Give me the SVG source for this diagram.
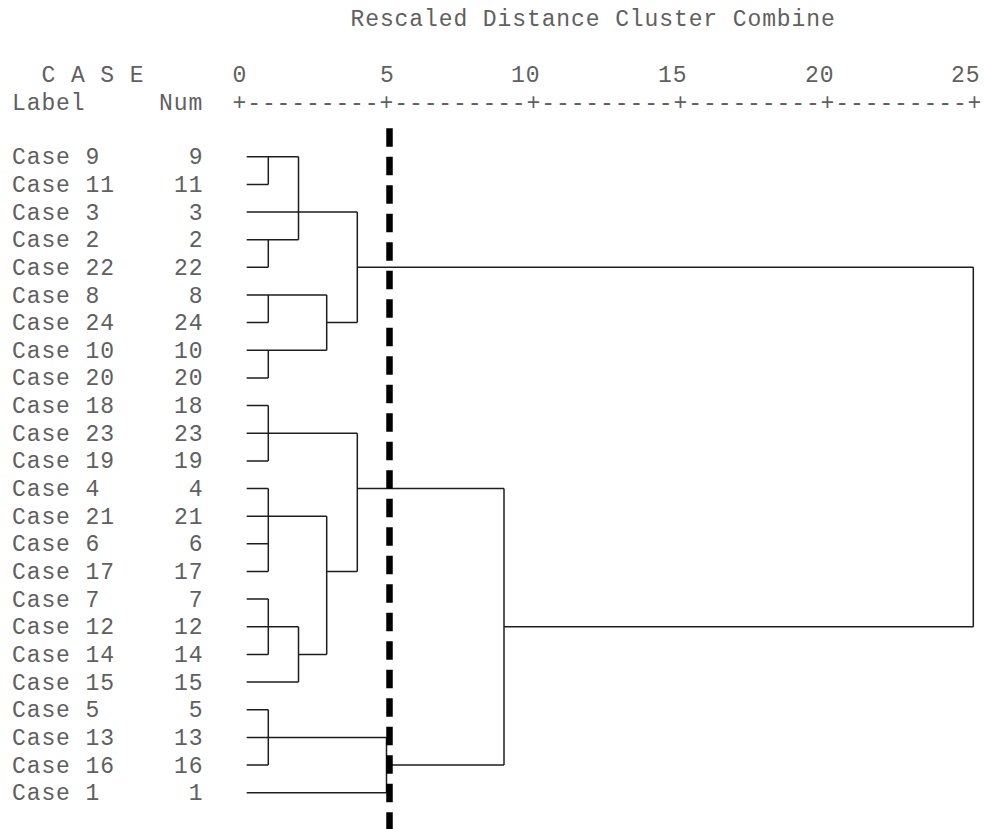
<svg xmlns="http://www.w3.org/2000/svg" width="984" height="829" viewBox="0 0 984 829">
<style>
text{font-family:"Liberation Mono","DejaVu Sans Mono",monospace;font-size:23px;letter-spacing:0.9px;fill:#606060}
.num{text-anchor:end}
.ln{stroke:#1e1e1e;stroke-width:1.5;fill:none}
.cut{stroke:#000;stroke-width:6.5;stroke-dasharray:18.5 10}
</style>
<rect width="984" height="829" fill="#fff"/>
<g id="header">
<text x="350.5" y="26">Rescaled Distance Cluster Combine</text>
<text x="41.5" y="82">C A S E</text>
<text x="232.5" y="82">0</text>
<text x="380" y="82">5</text>
<text x="511" y="82">10</text>
<text x="658" y="82">15</text>
<text x="805" y="82">20</text>
<text x="951" y="82">25</text>
<text x="12" y="110">Label</text>
<text x="159" y="110">Num</text>
<text x="232.5" y="110">+---------+---------+---------+---------+---------+</text>
</g>
<g id="case9"><text x="12" y="164.2">Case 9</text><text class="num" x="203.5" y="164.2">9</text></g>
<g id="case11"><text x="12" y="191.9">Case 11</text><text class="num" x="203.5" y="191.9">11</text></g>
<g id="case3"><text x="12" y="219.5">Case 3</text><text class="num" x="203.5" y="219.5">3</text></g>
<g id="case2"><text x="12" y="247.2">Case 2</text><text class="num" x="203.5" y="247.2">2</text></g>
<g id="case22"><text x="12" y="274.8">Case 22</text><text class="num" x="203.5" y="274.8">22</text></g>
<g id="case8"><text x="12" y="302.5">Case 8</text><text class="num" x="203.5" y="302.5">8</text></g>
<g id="case24"><text x="12" y="330.1">Case 24</text><text class="num" x="203.5" y="330.1">24</text></g>
<g id="case10"><text x="12" y="357.8">Case 10</text><text class="num" x="203.5" y="357.8">10</text></g>
<g id="case20"><text x="12" y="385.4">Case 20</text><text class="num" x="203.5" y="385.4">20</text></g>
<g id="case18"><text x="12" y="413.1">Case 18</text><text class="num" x="203.5" y="413.1">18</text></g>
<g id="case23"><text x="12" y="440.7">Case 23</text><text class="num" x="203.5" y="440.7">23</text></g>
<g id="case19"><text x="12" y="468.4">Case 19</text><text class="num" x="203.5" y="468.4">19</text></g>
<g id="case4"><text x="12" y="496">Case 4</text><text class="num" x="203.5" y="496">4</text></g>
<g id="case21"><text x="12" y="523.7">Case 21</text><text class="num" x="203.5" y="523.7">21</text></g>
<g id="case6"><text x="12" y="551.3">Case 6</text><text class="num" x="203.5" y="551.3">6</text></g>
<g id="case17"><text x="12" y="579">Case 17</text><text class="num" x="203.5" y="579">17</text></g>
<g id="case7"><text x="12" y="606.6">Case 7</text><text class="num" x="203.5" y="606.6">7</text></g>
<g id="case12"><text x="12" y="634.3">Case 12</text><text class="num" x="203.5" y="634.3">12</text></g>
<g id="case14"><text x="12" y="661.9">Case 14</text><text class="num" x="203.5" y="661.9">14</text></g>
<g id="case15"><text x="12" y="689.6">Case 15</text><text class="num" x="203.5" y="689.6">15</text></g>
<g id="case5"><text x="12" y="717.2">Case 5</text><text class="num" x="203.5" y="717.2">5</text></g>
<g id="case13"><text x="12" y="744.9">Case 13</text><text class="num" x="203.5" y="744.9">13</text></g>
<g id="case16"><text x="12" y="772.5">Case 16</text><text class="num" x="203.5" y="772.5">16</text></g>
<g id="case1"><text x="12" y="800.2">Case 1</text><text class="num" x="203.5" y="800.2">1</text></g>
<g id="connectors" class="ln">
<path d="M246.7 156.7H298.5M246.7 184.4H268.3M246.7 212H357.3M246.7 239.7H298.5M246.7 267.3H268.3M246.7 295H326.7M246.7 322.6H268.3M326.7 322.6H357.3M246.7 350.3H326.7M246.7 377.9H268.3M357.3 267.3H973.3"/>
<path d="M246.7 405.6H268.3M246.7 433.2H357.3M246.7 460.9H268.3M246.7 488.5H268.3M357.3 488.5H504M246.7 516.2H326.7M246.7 543.8H268.3M246.7 571.5H268.3M326.7 571.5H357.3M246.7 599.1H268.3M246.7 626.8H298.5M504 626.8H973.3M246.7 654.4H268.3M298.5 654.4H326.7M246.7 682.1H298.5"/>
<path d="M246.7 709.7H268.3M246.7 737.4H386.5M246.7 765H268.3M386.5 765H504M246.7 792.7H386.5"/>
<path d="M268.3 156.7V184.4M268.3 239.7V267.3M268.3 295V322.6M268.3 350.3V377.9M268.3 405.6V460.9M268.3 488.5V571.5M268.3 599.1V654.4M268.3 709.7V765"/>
<path d="M298.5 156.7V239.7M298.5 626.8V682.1M326.7 295V350.3M326.7 516.2V654.4M357.3 212V322.6M357.3 433.2V571.5M386.5 737.4V792.7M504 488.5V765M973.3 267.3V626.8"/>
</g>
<g id="cutline"><line class="cut" x1="389.5" y1="128.3" x2="389.5" y2="829"/></g>
</svg>
